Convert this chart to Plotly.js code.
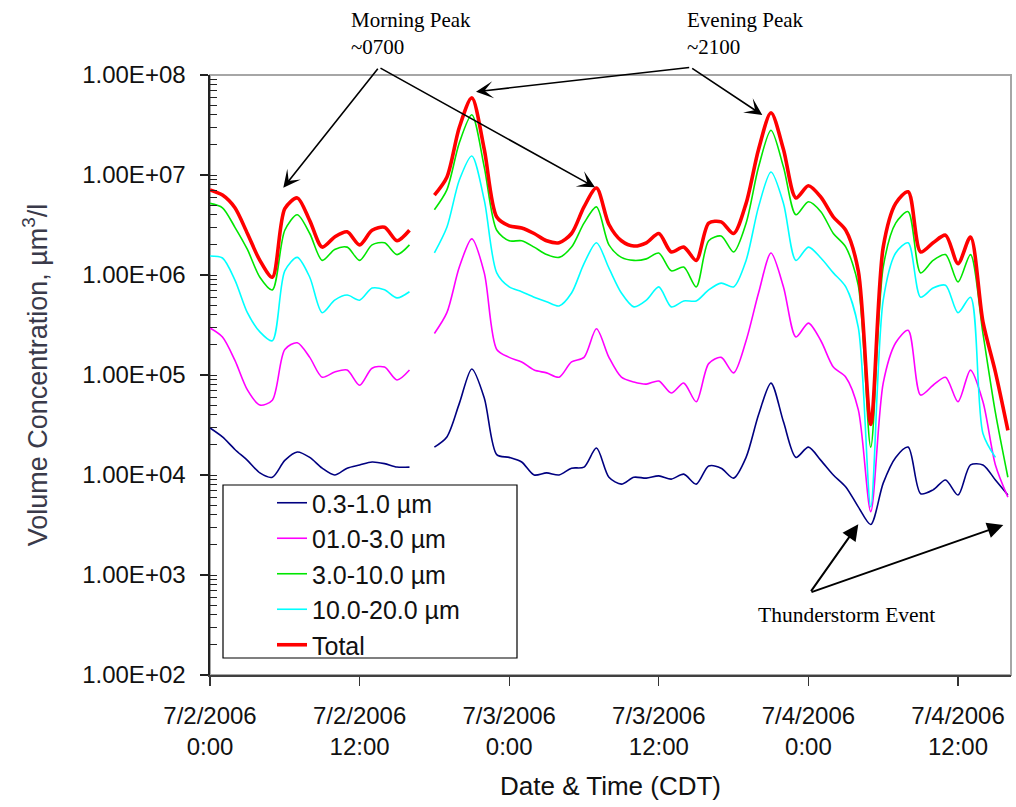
<!DOCTYPE html>
<html>
<head>
<meta charset="utf-8">
<script src="https://cdn.plot.ly/plotly-3.0.1.min.js"></script>
<style>html,body{margin:0;padding:0;background:#fff;}#chart{width:1016px;height:807px;}</style>
</head>
<body>
<div id="chart"></div>
<script>
// Time stamps (CDT), hourly; 7/2 17:00 has no data (gap)
const times = [
 '2006-07-02 00:00','2006-07-02 01:00','2006-07-02 02:00','2006-07-02 03:00','2006-07-02 04:00','2006-07-02 05:00',
 '2006-07-02 06:00','2006-07-02 07:00','2006-07-02 08:00','2006-07-02 09:00','2006-07-02 10:00','2006-07-02 11:00',
 '2006-07-02 12:00','2006-07-02 13:00','2006-07-02 14:00','2006-07-02 15:00','2006-07-02 16:00','2006-07-02 17:00',
 '2006-07-02 18:00','2006-07-02 19:00','2006-07-02 20:00','2006-07-02 21:00','2006-07-02 22:00','2006-07-02 23:00',
 '2006-07-03 00:00','2006-07-03 01:00','2006-07-03 02:00','2006-07-03 03:00','2006-07-03 04:00','2006-07-03 05:00',
 '2006-07-03 06:00','2006-07-03 07:00','2006-07-03 08:00','2006-07-03 09:00','2006-07-03 10:00','2006-07-03 11:00',
 '2006-07-03 12:00','2006-07-03 13:00','2006-07-03 14:00','2006-07-03 15:00','2006-07-03 16:00','2006-07-03 17:00',
 '2006-07-03 18:00','2006-07-03 19:00','2006-07-03 20:00','2006-07-03 21:00','2006-07-03 22:00','2006-07-03 23:00',
 '2006-07-04 00:00','2006-07-04 01:00','2006-07-04 02:00','2006-07-04 03:00','2006-07-04 04:00','2006-07-04 05:00',
 '2006-07-04 06:00','2006-07-04 07:00','2006-07-04 08:00','2006-07-04 09:00','2006-07-04 10:00','2006-07-04 11:00',
 '2006-07-04 12:00','2006-07-04 13:00','2006-07-04 14:00','2006-07-04 15:00','2006-07-04 16:00'
];

// Volume concentration, um^3/l
const size03_10 = [2.95e4,2.4e4,1.8e4,1.4e4,1.05e4,9.5e3,1.4e4,1.7e4,1.5e4,1.17e4,1.0e4,1.17e4,1.26e4,1.35e4,1.3e4,1.2e4,1.2e4, null,
 1.9e4,2.4e4,5.2e4,1.15e5,5.9e4,1.6e4,1.5e4,1.35e4,1.0e4,1.05e4,1.0e4,1.17e4,1.2e4,1.86e4,9.5e3,8.1e3,9.5e3,9.3e3,9.8e3,9.1e3,
 1.02e4,8.1e3,1.23e4,1.17e4,9.3e3,1.5e4,4.0e4,8.3e4,3.4e4,1.5e4,1.9e4,1.4e4,1.0e4,7.6e3,4.8e3,3.2e3,8.3e3,1.5e4,1.9e4,6.5e3,
 7.1e3,8.9e3,6.3e3,1.26e4,1.26e4,8.9e3,6.3e3];
const size10_30 = [2.95e5,2.4e5,1.4e5,7.1e4,5.0e4,5.6e4,1.8e5,2.1e5,1.5e5,9.5e4,1.07e5,1.12e5,7.9e4,1.17e5,1.2e5,8.9e4,1.12e5, null,
 2.6e5,4.2e5,1.2e6,2.3e6,1.05e6,1.8e5,1.5e5,1.35e5,1.12e5,1.05e5,9.5e4,1.35e5,1.5e5,2.9e5,1.5e5,9.5e4,8.5e4,8.1e4,8.7e4,6.6e4,
 8.3e4,5.4e4,1.3e5,1.5e5,1.05e5,2.2e5,6.6e5,1.66e6,7.6e5,2.4e5,3.3e5,2.2e5,1.2e5,9.5e4,4.5e4,4.3e3,8.3e4,2.1e5,2.8e5,6.3e4,
 7.9e4,9.5e4,5.4e4,1.12e5,5.4e4,1.26e4,6.0e3];
const size30_100 = [5.2e6,4.7e6,3.0e6,1.8e6,9.5e5,7.1e5,2.8e6,4.0e6,2.6e6,1.4e6,1.8e6,1.9e6,1.4e6,2.0e6,2.1e6,1.6e6,2.0e6, null,
 4.5e6,7.1e6,2.1e7,4.0e7,1.2e7,2.8e6,2.2e6,2.2e6,1.9e6,1.6e6,1.5e6,1.9e6,3.3e6,4.8e6,2.0e6,1.5e6,1.4e6,1.45e6,1.66e6,1.1e6,
 1.2e6,7.6e5,2.2e6,2.45e6,1.7e6,3.3e6,1.2e7,2.8e7,1.2e7,4.0e6,5.4e6,4.3e6,2.6e6,1.9e6,7.9e5,1.9e4,1.2e6,3.3e6,4.3e6,1.05e6,
 1.4e6,1.6e6,8.5e5,1.6e6,2.6e5,4.2e4,9.5e3];
const size100_200 = [1.55e6,1.48e6,8.9e5,4.2e5,2.7e5,2.2e5,1.1e6,1.5e6,9.5e5,4.2e5,5.6e5,6.3e5,5.6e5,7.4e5,7.1e5,5.9e5,6.8e5, null,
 1.66e6,3.0e6,8.9e6,1.55e7,5.6e6,1.05e6,7.6e5,6.8e5,6.0e5,5.4e5,4.9e5,6.6e5,1.3e6,2.1e6,1.17e6,6.6e5,4.8e5,5.6e5,7.6e5,4.8e5,
 5.5e5,5.5e5,7.1e5,8.3e5,7.6e5,1.4e6,4.8e6,1.07e7,5.2e6,1.4e6,1.9e6,1.48e6,1.05e6,7.6e5,3.0e5,4.8e3,5.6e5,1.66e6,2.1e6,6.0e5,
 7.4e5,7.9e5,4.2e5,6.0e5,2.6e4,1.5e4,null];
const total = [7.1e6,6.3e6,4.7e6,2.6e6,1.4e6,9.5e5,4.6e6,5.9e6,3.5e6,1.9e6,2.4e6,2.7e6,2.0e6,2.8e6,3.0e6,2.2e6,2.8e6, null,
 6.3e6,9.5e6,3.0e7,5.9e7,1.8e7,3.8e6,3.1e6,2.95e6,2.6e6,2.2e6,2.1e6,2.6e6,4.8e6,7.4e6,3.2e6,2.2e6,1.95e6,2.1e6,2.6e6,1.7e6,
 1.9e6,1.4e6,3.3e6,3.4e6,2.6e6,5.2e6,1.8e7,4.2e7,1.8e7,5.9e6,7.8e6,6.0e6,3.8e6,2.8e6,1.1e6,3.2e4,1.9e6,5.2e6,6.8e6,1.7e6,
 2.1e6,2.5e6,1.3e6,2.4e6,3.4e5,1.07e5,2.8e4];

const seriesNames = ['0.3-1.0 \u00b5m','01.0-3.0 \u00b5m','3.0-10.0 \u00b5m','10.0-20.0 \u00b5m','Total'];
const seriesColors = ['#000080','#ff00ff','#00e600','#00ffff','#ff0000'];
const seriesWidths = [1.6,1.6,1.6,1.6,3.6];
const seriesData = [size03_10,size10_30,size30_100,size100_200,total];

const xTickVals = ['2006-07-02 00:00','2006-07-02 12:00','2006-07-03 00:00','2006-07-03 12:00','2006-07-04 00:00','2006-07-04 12:00'];
const xTickText = ['7/2/2006<br>0:00','7/2/2006<br>12:00','7/3/2006<br>0:00','7/3/2006<br>12:00','7/4/2006<br>0:00','7/4/2006<br>12:00'];
const yTickVals = [1e2,1e3,1e4,1e5,1e6,1e7,1e8];
const yTickText = ['1.00E+02','1.00E+03','1.00E+04','1.00E+05','1.00E+06','1.00E+07','1.00E+08'];
const yDecades = [1e2,1e3,1e4,1e5,1e6,1e7];
const yMinorDigits = [1,2,3,4,5,6,7,8,9];
const yMinorVals = yDecades.flatMap(d => yMinorDigits.map(k => k*d)).concat([1e8]);

const traces = seriesData.map((d,i)=>({
  x: times, y: d, type:'scatter', mode:'lines', name: seriesNames[i],
  line:{color:seriesColors[i], width:seriesWidths[i], shape:'spline', smoothing:0.8},
  connectgaps:false, hoverinfo:'skip'
}));
// carrier for the inner (minor) tick axis
traces.push({x:[null], y:[null], yaxis:'y2', type:'scatter', mode:'lines', showlegend:false, hoverinfo:'skip'});

const W = 801, H = 600, L = 210, T = 75;
const px = v => (v - L)/W;
const py = v => (T + H - v)/H;

const serif = 'Liberation Serif, Times New Roman, serif';
function arrow(tipX, tipY, tailX, tailY, head, size, width){
  return {xref:'paper', yref:'paper', x:px(tipX), y:py(tipY), ax:tailX-tipX, ay:tailY-tipY,
          text:'', showarrow:true, arrowhead:head, arrowsize:size, arrowwidth:width, arrowcolor:'#000'};
}

const layout = {
  width:1016, height:807,
  margin:{l:210, r:5, t:75, b:132},
  paper_bgcolor:'#fff', plot_bgcolor:'#fff',
  showlegend:true,
  font:{family:'Liberation Sans, Arial, sans-serif', color:'#111'},
  xaxis:{
    type:'date', range:['2006-07-02 00:00','2006-07-04 16:15'],
    tickmode:'array', tickvals:xTickVals, ticktext:xTickText,
    ticks:'outside', ticklen:9, tickwidth:1.3, tickcolor:'#333',
    showline:true, linecolor:'#404040', linewidth:2,
    showgrid:false, zeroline:false,
    tickfont:{size:24, color:'#111'}, ticklabelstandoff:9,
    title:{text:'Date & Time (CDT)', font:{size:26, color:'#111'}, standoff:18}
  },
  yaxis:{
    type:'log', range:[2,8],
    tickmode:'array', tickvals:yTickVals, ticktext:yTickText,
    ticks:'outside', ticklen:8, tickwidth:1.3, tickcolor:'#222',
    showline:true, linecolor:'#222', linewidth:1.6,
    showgrid:false, zeroline:false,
    tickfont:{size:24, color:'#111'}, ticklabelstandoff:10,
    title:{text:'Volume Concentration, \u00b5m<sup>3</sup>/l', font:{size:27, color:'#3a3a4a'}, standoff:27}
  },
  yaxis2:{
    type:'log', range:[2,8], overlaying:'y', side:'left', anchor:'x',
    tickmode:'array', tickvals:yMinorVals, ticks:'inside', ticklen:7, tickwidth:1, tickcolor:'#222',
    showticklabels:false, showline:false, showgrid:false, zeroline:false
  },
  legend:{
    x:px(272), y:py(480), xanchor:'left', yanchor:'top',
    bgcolor:'rgba(0,0,0,0)', borderwidth:0,
    font:{size:25, color:'#111'}, itemwidth:30, tracegroupgap:0
  },
  shapes:[
    {type:'rect', xref:'paper', yref:'paper', x0:0, x1:1, y0:0, y1:1, line:{color:'#a6a6a6', width:2}, layer:'below'},
    {type:'rect', xref:'paper', yref:'paper', x0:px(223), x1:px(517), y0:py(658), y1:py(485), line:{color:'#000', width:1.2}, fillcolor:'#fff', layer:'above'}
  ],
  annotations:[
    {xref:'paper', yref:'paper', x:px(349), y:py(6), xanchor:'left', yanchor:'top', align:'left', showarrow:false,
     text:'Morning Peak<br>~0700', font:{family:serif, size:21, color:'#000'}},
    {xref:'paper', yref:'paper', x:px(685), y:py(6), xanchor:'left', yanchor:'top', align:'left', showarrow:false,
     text:'Evening Peak<br>~2100', font:{family:serif, size:21, color:'#000'}},
    {xref:'paper', yref:'paper', x:px(846), y:py(615), xanchor:'center', yanchor:'middle', showarrow:false,
     text:'Thunderstorm Event', font:{family:serif, size:21.5, color:'#000'}},
    arrow(283.3,187.7,379,67.3,3,1.8,1.6),
    arrow(595,187.3,379,67.3,3,1.8,1.6),
    arrow(476,91.7,690.7,67.3,3,1.8,1.6),
    arrow(762.3,115,690.7,67.3,3,1.8,1.6),
    arrow(858.3,524.3,810,592.7,2,1.6,2),
    arrow(1003.3,525,810,592.7,2,1.6,2)
  ]
};

Plotly.newPlot('chart', traces, layout, {staticPlot:true, displayModeBar:false});
</script>
</body>
</html>
